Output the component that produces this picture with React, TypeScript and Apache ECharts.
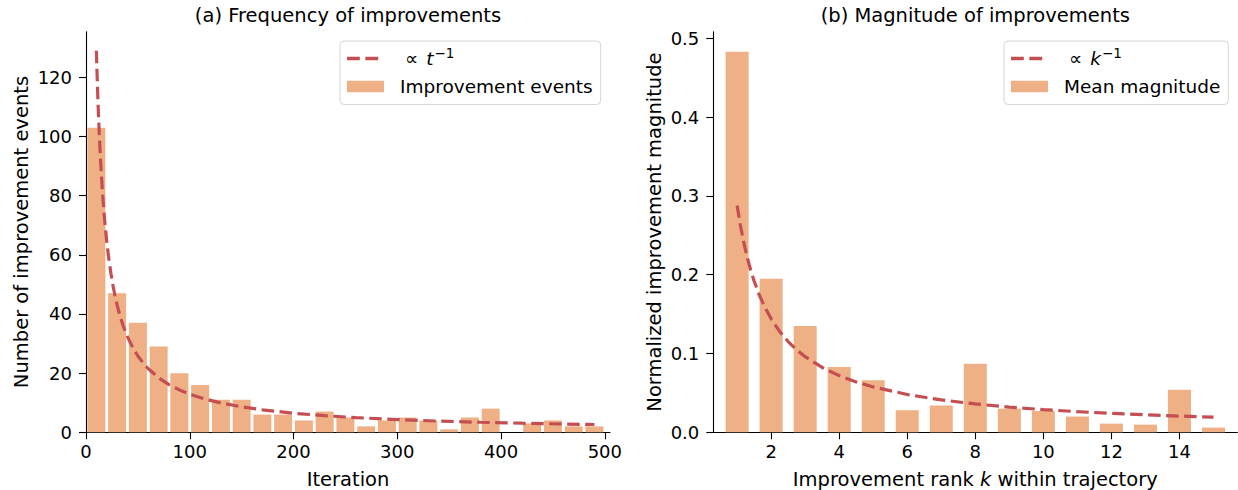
import React, { useEffect, useRef } from 'react';
import * as echarts from 'echarts';

const FONT = 'DejaVu Sans';

// (a) Frequency of improvements
const iterBinCenters = [10, 30, 50, 70, 90, 110, 130, 150, 170, 190, 210, 230, 250, 270, 290, 310, 330, 350, 370, 390, 410, 430, 450, 470, 490];
const iterCounts = [103, 47, 37, 29, 20, 16, 11, 11, 6, 6, 4, 7, 5, 2, 4, 5, 4, 1, 5, 8, 0, 3, 4, 2, 2];
const iterTicks = [0, 100, 200, 300, 400, 500];
const countTicks = [0, 20, 40, 60, 80, 100, 120];
const fitT = [10, 11, 12, 13, 14, 15, 16, 17, 18, 19, 20, 22, 24, 26, 28, 30, 33, 36, 40, 45, 50, 55, 60, 70, 80, 90, 100, 115, 130, 150, 170, 200, 230, 260, 300, 340, 380, 420, 460, 490];
const fitTValues = [129.0, 117.27, 107.5, 99.23, 92.14, 86.0, 80.63, 75.88, 71.67, 67.89, 64.5, 58.64, 53.75, 49.62, 46.07, 43.0, 39.09, 35.83, 32.25, 28.67, 25.8, 23.45, 21.5, 18.43, 16.13, 14.33, 12.9, 11.22, 9.92, 8.6, 7.59, 6.45, 5.61, 4.96, 4.3, 3.79, 3.39, 3.07, 2.8, 2.63];

// (b) Magnitude of improvements
const ranks = [1, 2, 3, 4, 5, 6, 7, 8, 9, 10, 11, 12, 13, 14, 15];
const magnitudes = [0.483, 0.195, 0.135, 0.083, 0.066, 0.028, 0.034, 0.087, 0.030, 0.027, 0.020, 0.011, 0.0097, 0.054, 0.006];
const rankTicks = [2, 4, 6, 8, 10, 12, 14];
const magTicks = [0, 0.1, 0.2, 0.3, 0.4, 0.5];
const fitK = [1, 1.1, 1.2, 1.3, 1.4, 1.5, 1.65, 1.8, 2, 2.25, 2.5, 2.75, 3, 3.5, 4, 4.5, 5, 6, 7, 8, 9, 10, 11, 12, 13, 14, 15];
const fitKValues = [0.288, 0.2618, 0.24, 0.2215, 0.2057, 0.192, 0.1745, 0.16, 0.144, 0.128, 0.1152, 0.1047, 0.096, 0.0823, 0.072, 0.064, 0.0576, 0.048, 0.0411, 0.036, 0.032, 0.0288, 0.0262, 0.024, 0.0222, 0.0206, 0.0192];

const BAR_COLOR = '#eeb084';
const LINE_COLOR = '#c44e52';
// legend handle for the dashed fit line: two dashes in a 37 x 11.5 box (units of 0.1 px)
const DASH_ICON = 'path://M0,0L0,0ZM370,115L370,115ZM0,40H128V75H0ZM184,40H312V75H184Z';

const axisLine = { show: true, onZero: false, lineStyle: { color: '#000', width: 1.1 } };
const tickStyle = { color: '#000', width: 1.1 };
const labelBase = { color: '#000', fontSize: 18, fontFamily: FONT };
const nameStyle = {
  color: '#000',
  fontSize: 19.5,
  fontFamily: FONT,
  rich: { i: { fontStyle: 'italic', fontSize: 19.5, fontFamily: FONT, color: '#000' } },
};

const legendRich = {
  p: { fontSize: 18.5, fontFamily: FONT, color: '#000', padding: [0, 8, 0, 5] },
  i: { fontSize: 18.5, fontFamily: FONT, color: '#000', fontStyle: 'italic' },
  s: { fontSize: 13.5, fontFamily: FONT, color: '#000', padding: [0, 0, 11, 1] },
};

export default function App() {
  const ref = useRef<HTMLDivElement>(null);
  useEffect(() => {
    if (!ref.current) return;
    const chart = echarts.init(ref.current, null, { renderer: 'svg' });
    const legendCommon = {
      orient: 'vertical',
      top: 41,
      itemWidth: 37,
      itemHeight: 11.5,
      itemGap: 6,
      padding: [5, 8, 7, 7],
      borderColor: '#d6d6d6',
      borderWidth: 1,
      borderRadius: 4,
      backgroundColor: '#fff',
      symbolKeepAspect: false,
      textStyle: {
        color: '#000',
        fontSize: 18.5,
        fontFamily: FONT,
        lineHeight: 22,
        padding: [0, 0, 0, 11],
        rich: legendRich,
      },
    };
    const dashItemStyle = { color: LINE_COLOR, borderWidth: 0 };
    chart.setOption({
      animation: false,
      backgroundColor: '#fff',
      textStyle: { fontFamily: FONT },
      graphic: [
        {
          type: 'text',
          x: 348,
          y: 15,
          style: {
            text: '(a) Frequency of improvements',
            fontSize: 19.5,
            fontFamily: FONT,
            fill: '#000',
            align: 'center',
            verticalAlign: 'middle',
          },
        },
        {
          type: 'text',
          x: 975.3,
          y: 15,
          style: {
            text: '(b) Magnitude of improvements',
            fontSize: 19.5,
            fontFamily: FONT,
            fill: '#000',
            align: 'center',
            verticalAlign: 'middle',
          },
        },
      ],
      grid: [
        { left: 86, top: 31.8, width: 524, height: 400.5, containLabel: false, outerBoundsMode: 'none' },
        { left: 713.3, top: 31.8, width: 524, height: 400.5, containLabel: false, outerBoundsMode: 'none' },
      ],
      legend: [
        {
          ...legendCommon,
          left: 340,
          data: [
            { name: 'fitT', icon: DASH_ICON, itemStyle: dashItemStyle },
            { name: 'Improvement events', icon: 'rect' },
          ],
          formatter: (n: string) => (n === 'fitT' ? '{p|∝}{i|t}{s|−1}' : n),
        },
        {
          ...legendCommon,
          left: 1004,
          data: [
            { name: 'fitK', icon: DASH_ICON, itemStyle: dashItemStyle },
            { name: 'Mean magnitude', icon: 'rect' },
          ],
          formatter: (n: string) => (n === 'fitK' ? '{p|∝}{i|k}{s|−1}' : n),
        },
      ],
      xAxis: [
        {
          type: 'value',
          gridIndex: 0,
          min: 0,
          max: 505,
          name: 'Iteration',
          nameLocation: 'middle',
          nameGap: 37,
          nameTextStyle: nameStyle,
          axisLine,
          axisTick: { show: true, length: 7, lineStyle: tickStyle, customValues: iterTicks },
          axisLabel: { ...labelBase, margin: 10, customValues: iterTicks },
          splitLine: { show: false },
        },
        {
          type: 'value',
          gridIndex: 1,
          min: 0.3,
          max: 15.7,
          name: 'Improvement rank {i|k} within trajectory',
          nameLocation: 'middle',
          nameGap: 37,
          nameTextStyle: nameStyle,
          axisLine,
          axisTick: { show: true, length: 7, lineStyle: tickStyle, customValues: rankTicks },
          axisLabel: { ...labelBase, margin: 10, customValues: rankTicks },
          splitLine: { show: false },
        },
      ],
      yAxis: [
        {
          type: 'value',
          gridIndex: 0,
          min: 0,
          max: 135.4,
          name: 'Number of improvement events',
          nameLocation: 'middle',
          nameGap: 55,
          nameTextStyle: nameStyle,
          axisLine,
          axisTick: { show: true, length: 7, lineStyle: tickStyle, customValues: countTicks },
          axisLabel: { ...labelBase, margin: 14, customValues: countTicks },
          splitLine: { show: false },
        },
        {
          type: 'value',
          gridIndex: 1,
          min: 0,
          max: 0.5084,
          name: 'Normalized improvement magnitude',
          nameLocation: 'middle',
          nameGap: 49,
          nameTextStyle: nameStyle,
          axisLine,
          axisTick: { show: true, length: 7, lineStyle: tickStyle, customValues: magTicks },
          axisLabel: {
            ...labelBase,
            margin: 14,
            customValues: magTicks,
            formatter: (v: number) => v.toFixed(1),
          },
          splitLine: { show: false },
        },
      ],
      series: [
        {
          name: 'Improvement events',
          type: 'bar',
          xAxisIndex: 0,
          yAxisIndex: 0,
          barWidth: 18,
          itemStyle: { color: BAR_COLOR },
          data: iterBinCenters.map((c, i) => [c, iterCounts[i]]),
        },
        {
          name: 'fitT',
          type: 'line',
          xAxisIndex: 0,
          yAxisIndex: 0,
          symbol: 'none',
          showSymbol: false,
          smooth: false,
          z: 5,
          itemStyle: { color: LINE_COLOR },
          lineStyle: { color: LINE_COLOR, width: 3.2, type: [12.5, 5.5] },
          data: fitT.map((t, i) => [t, fitTValues[i]]),
        },
        {
          name: 'Mean magnitude',
          type: 'bar',
          xAxisIndex: 1,
          yAxisIndex: 1,
          barWidth: 23,
          itemStyle: { color: BAR_COLOR },
          data: ranks.map((k, i) => [k, magnitudes[i]]),
        },
        {
          name: 'fitK',
          type: 'line',
          xAxisIndex: 1,
          yAxisIndex: 1,
          symbol: 'none',
          showSymbol: false,
          smooth: false,
          z: 5,
          itemStyle: { color: LINE_COLOR },
          lineStyle: { color: LINE_COLOR, width: 3.2, type: [12.5, 5.5] },
          data: fitK.map((k, i) => [k, fitKValues[i]]),
        },
      ],
    });
    return () => chart.dispose();
  }, []);
  return (
    <div
      ref={ref}
      style={{ position: 'fixed', left: 0, top: 0, width: 1238, height: 490, background: '#fff' }}
    />
  );
}
